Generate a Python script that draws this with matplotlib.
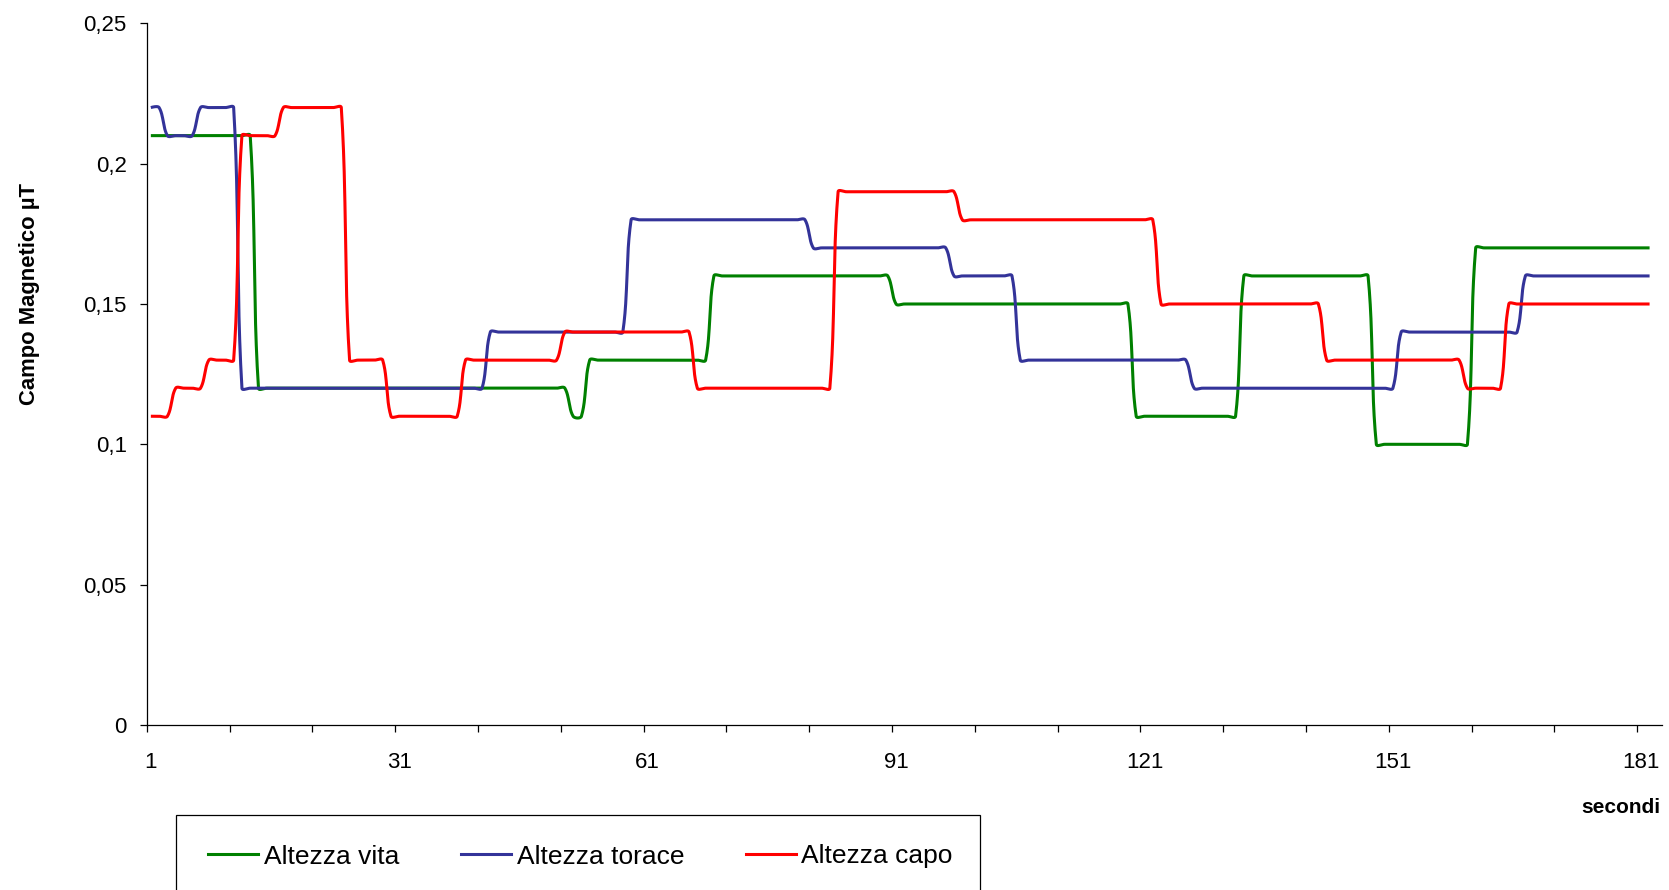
import numpy as np
import matplotlib
matplotlib.use('Agg')
import matplotlib.pyplot as plt
from matplotlib.lines import Line2D
from matplotlib.patches import Rectangle

plt.rcParams['font.family'] = ['Liberation Sans', 'DejaVu Sans']

# readings per second, stored as runs of constant field (level, number of seconds)
vita_levels = [0.21, 0.12, 0.11, 0.13, 0.16, 0.15, 0.11, 0.16, 0.10, 0.17]
vita_counts = [13, 38, 2, 15, 22, 29, 13, 16, 12, 22]

torace_levels = [0.22, 0.21, 0.22, 0.12, 0.14, 0.18, 0.17, 0.16, 0.13, 0.12, 0.14, 0.16]
torace_counts = [2, 4, 5, 30, 17, 22, 17, 8, 21, 25, 15, 16]

capo_levels = [0.11, 0.12, 0.13, 0.21, 0.22, 0.13, 0.11, 0.13, 0.14, 0.12,
               0.19, 0.18, 0.15, 0.13, 0.12, 0.15]
capo_counts = [3, 4, 4, 5, 8, 5, 9, 12, 16, 17, 15, 24, 20, 17, 5, 18]

series_names = ['Altezza vita', 'Altezza torace', 'Altezza capo']
series_colors = ['#008000', '#333399', '#FF0000']

n_categories = 183
xtick_values = [1, 31, 61, 91, 121, 151, 181]
ytick_values = [0, 0.05, 0.1, 0.15, 0.2, 0.25]
ytick_labels = ['0', '0,05', '0,1', '0,15', '0,2', '0,25']

W, H = 1669, 890
# pixels per second and per unit of field, used to weigh the smoothing
PX_X = 8.28
PX_Y = 2806.0


def smooth_line(y, tension=0.36, steps=24):
    # smoothed line: bezier segments, tangents split by neighbouring segment lengths on screen
    x = np.arange(1, len(y) + 1, dtype=float)
    y = np.asarray(y, dtype=float)
    pts = np.column_stack([x * PX_X, y * PX_Y])
    n = len(pts)
    before = pts.copy()
    after = pts.copy()
    for i in range(1, n - 1):
        d0 = np.hypot(*(pts[i] - pts[i - 1]))
        d1 = np.hypot(*(pts[i + 1] - pts[i]))
        tan = pts[i + 1] - pts[i - 1]
        before[i] = pts[i] - tension * d0 / (d0 + d1) * tan
        after[i] = pts[i] + tension * d1 / (d0 + d1) * tan
    t = np.linspace(0, 1, steps, endpoint=False)[:, None]
    segs = []
    for i in range(n - 1):
        p1, c1, c2, p2 = pts[i], after[i], before[i + 1], pts[i + 1]
        segs.append((1 - t) ** 3 * p1 + 3 * (1 - t) ** 2 * t * c1 + 3 * (1 - t) * t ** 2 * c2 + t ** 3 * p2)
    segs.append(pts[-1:])
    out = np.vstack(segs)
    return out[:, 0] / PX_X, out[:, 1] / PX_Y


vita = np.repeat(vita_levels, vita_counts)
torace = np.repeat(torace_levels, torace_counts)
capo = np.repeat(capo_levels, capo_counts)

fig = plt.figure(figsize=(W / 100, H / 100), dpi=100)
ax = fig.add_axes([146.7 / W, 1 - 724.9 / H, (1662 - 146.7) / W, (724.9 - 23.4) / H])

for vals, col in zip([vita, torace, capo], series_colors):
    sx, sy = smooth_line(vals)
    ax.plot(sx, sy, color=col, lw=2.2, solid_capstyle='butt')

ax.set_xlim(0.5, n_categories + 0.5)
ax.set_ylim(0, 0.25)

for side in ['top', 'right']:
    ax.spines[side].set_visible(False)
for side in ['left', 'bottom']:
    ax.spines[side].set_linewidth(0.9)
    ax.spines[side].set_color('black')

ax.set_yticks(ytick_values)
ax.set_yticklabels(ytick_labels)
ax.tick_params(axis='y', direction='out', length=5.3, width=0.9, pad=9, labelsize=16)

ax.set_xticks(xtick_values)
ax.set_xticklabels([str(v) for v in xtick_values])
ax.set_xticks(np.arange(0.5, 181, 10), minor=True)
ax.tick_params(axis='x', which='major', length=0, pad=19.4, labelsize=16)
ax.tick_params(axis='x', which='minor', direction='out', length=5.3, width=0.9)

fig.text(30 / W, 1 - 294 / H, 'Campo Magnetico µT', rotation=90, ha='center', va='center',
         fontsize=15.8, fontweight='bold')
fig.text(1660 / W, 1 - 812.7 / H, 'secondi', ha='right', va='baseline',
         fontsize=15, fontweight='bold')

# legend box runs past the bottom edge
fig.patches.append(Rectangle((175.7 / W, -20 / H), (980.3 - 175.7) / W, (890 - 815 + 20) / H,
                             transform=fig.transFigure, fill=False, edgecolor='black', lw=0.9))
handles = [Line2D([], [], color=c, lw=2.2) for c in series_colors]
fig.legend(handles, series_names, loc='center left', bbox_to_anchor=(208.3 / W, 1 - 856.5 / H),
           ncol=3, frameon=False, fontsize=19, handlelength=1.9, handletextpad=0.2,
           columnspacing=2.35, borderpad=0, borderaxespad=0)

fig.savefig('out.png', dpi=100)
